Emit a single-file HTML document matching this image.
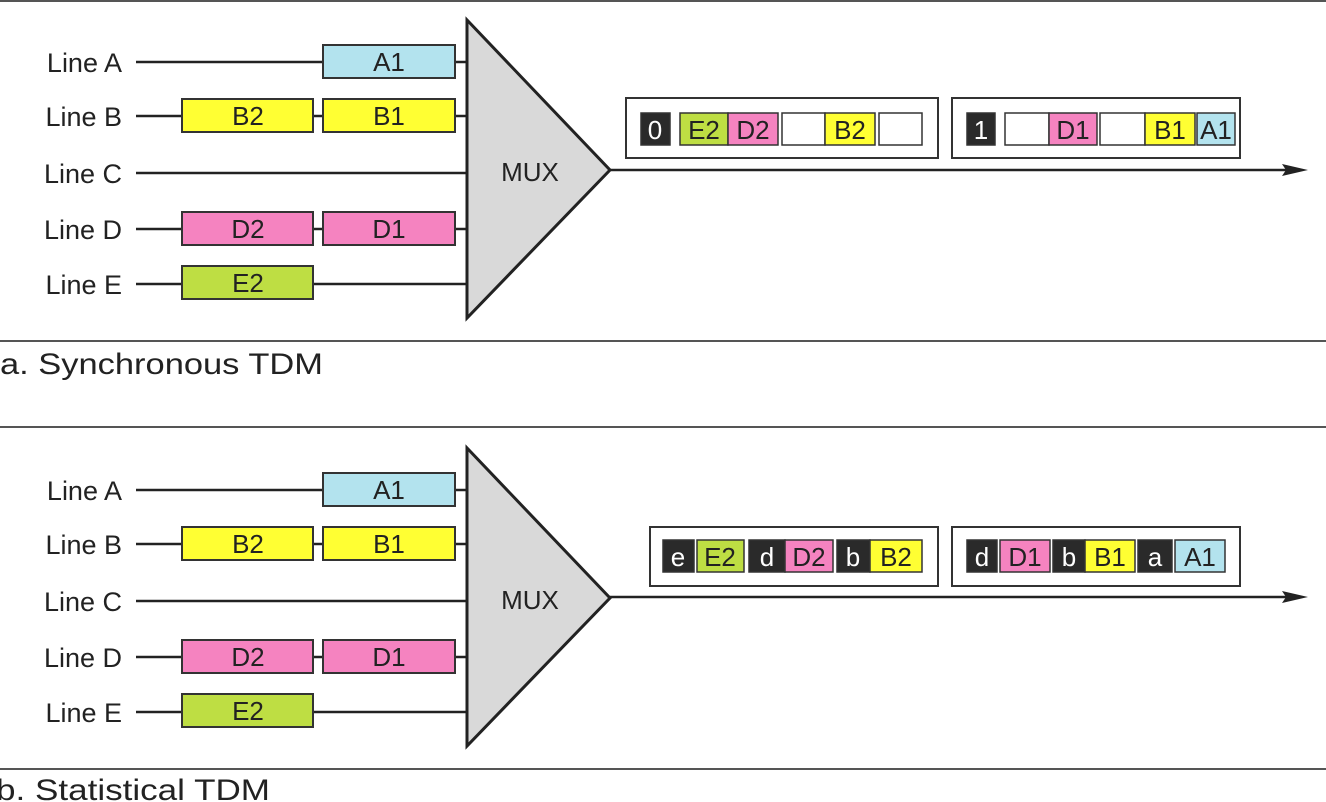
<!DOCTYPE html>
<html><head><meta charset="utf-8"><style>
html,body{margin:0;padding:0;background:#fff;width:1326px;height:802px;overflow:hidden}
text{font-family:"Liberation Sans",sans-serif;fill:#222}
</style></head><body>
<svg width="1326" height="802" viewBox="0 0 1326 802" xmlns="http://www.w3.org/2000/svg">
<defs>
<g id="left">
  <g font-size="27" text-anchor="end">
    <text x="122" y="72">Line A</text>
    <text x="122" y="126">Line B</text>
    <text x="122" y="183">Line C</text>
    <text x="122" y="239">Line D</text>
    <text x="122" y="294">Line E</text>
  </g>
  <g stroke="#222" stroke-width="2.5">
    <line x1="136" y1="62" x2="467" y2="62"/>
    <line x1="136" y1="116" x2="467" y2="116"/>
    <line x1="136" y1="173" x2="467" y2="173"/>
    <line x1="136" y1="229" x2="467" y2="229"/>
    <line x1="136" y1="284" x2="467" y2="284"/>
  </g>
  <g stroke="#333" stroke-width="2">
    <rect x="323" y="45" width="132" height="33" fill="#b3e3ee"/>
    <rect x="182" y="99" width="131" height="33" fill="#ffff33"/>
    <rect x="323" y="99" width="132" height="33" fill="#ffff33"/>
    <rect x="182" y="212" width="131" height="33" fill="#f583c0"/>
    <rect x="323" y="212" width="132" height="33" fill="#f583c0"/>
    <rect x="182" y="266" width="131" height="33" fill="#bede43"/>
  </g>
  <g font-size="26" text-anchor="middle">
    <text x="389" y="71">A1</text>
    <text x="248" y="125">B2</text><text x="389" y="125">B1</text>
    <text x="248" y="238">D2</text><text x="389" y="238">D1</text>
    <text x="248" y="292">E2</text>
  </g>
  <polygon points="467,20 467,318 610,170" fill="#d9d9d9" stroke="#222" stroke-width="3"/>
  <text x="530" y="181" font-size="26" text-anchor="middle">MUX</text>
</g>
</defs>
<g stroke="#555" stroke-width="2">
  <line x1="0" y1="1" x2="1326" y2="1"/>
  <line x1="0" y1="341" x2="1326" y2="341"/>
  <line x1="0" y1="427" x2="1326" y2="427"/>
  <line x1="0" y1="769" x2="1326" y2="769"/>
</g>
<use href="#left"/>
<use href="#left" transform="translate(0,428)"/>
<text x="0" y="374" font-size="30" textLength="323" lengthAdjust="spacingAndGlyphs">a. Synchronous TDM</text>
<text x="-4" y="800" font-size="30" textLength="274" lengthAdjust="spacingAndGlyphs">b. Statistical TDM</text>

<!-- top output -->
<line x1="610" y1="170" x2="1290" y2="170" stroke="#222" stroke-width="2.5"/>
<polygon points="1308,170 1282,164 1286,170 1282,176" fill="#222"/>
<g stroke="#333" stroke-width="2" fill="#fff">
  <rect x="626" y="98" width="312" height="60"/>
  <rect x="952" y="98" width="288" height="60"/>
</g>
<g stroke="#333" stroke-width="1.5">
  <rect x="641" y="113" width="29" height="32" fill="#2a2a2a"/>
  <rect x="680" y="113" width="48" height="32" fill="#bede43"/>
  <rect x="728" y="113" width="50" height="32" fill="#f583c0"/>
  <rect x="782" y="113" width="43" height="32" fill="#fff"/>
  <rect x="825" y="113" width="50" height="32" fill="#ffff33"/>
  <rect x="879" y="113" width="43" height="32" fill="#fff"/>
  <rect x="967" y="113" width="28" height="32" fill="#2a2a2a"/>
  <rect x="1005" y="113" width="44" height="32" fill="#fff"/>
  <rect x="1049" y="113" width="48" height="32" fill="#f583c0"/>
  <rect x="1100" y="113" width="45" height="32" fill="#fff"/>
  <rect x="1145" y="113" width="50" height="32" fill="#ffff33"/>
  <rect x="1197" y="113" width="38" height="32" fill="#b3e3ee"/>
</g>
<g font-size="26" text-anchor="middle">
  <text x="655" y="139" style="fill:#fff">0</text>
  <text x="704" y="139">E2</text>
  <text x="753" y="139">D2</text>
  <text x="850" y="139">B2</text>
  <text x="981" y="139" style="fill:#fff">1</text>
  <text x="1073" y="139">D1</text>
  <text x="1170" y="139">B1</text>
  <text x="1216" y="139">A1</text>
</g>

<!-- bottom output -->
<line x1="610" y1="597" x2="1290" y2="597" stroke="#222" stroke-width="2.5"/>
<polygon points="1308,597 1282,591 1286,597 1282,603" fill="#222"/>
<g stroke="#333" stroke-width="2" fill="#fff">
  <rect x="650" y="527" width="288" height="59"/>
  <rect x="952" y="527" width="288" height="59"/>
</g>
<g stroke="#333" stroke-width="1.5">
  <rect x="663" y="540" width="31" height="32" fill="#2a2a2a"/>
  <rect x="697" y="540" width="47" height="32" fill="#bede43"/>
  <rect x="749" y="540" width="36" height="32" fill="#2a2a2a"/>
  <rect x="785" y="540" width="48" height="32" fill="#f583c0"/>
  <rect x="837" y="540" width="33" height="32" fill="#2a2a2a"/>
  <rect x="870" y="540" width="52" height="32" fill="#ffff33"/>
  <rect x="967" y="540" width="30" height="32" fill="#2a2a2a"/>
  <rect x="1000" y="540" width="50" height="32" fill="#f583c0"/>
  <rect x="1053" y="540" width="32" height="32" fill="#2a2a2a"/>
  <rect x="1085" y="540" width="50" height="32" fill="#ffff33"/>
  <rect x="1138" y="540" width="34" height="32" fill="#2a2a2a"/>
  <rect x="1175" y="540" width="50" height="32" fill="#b3e3ee"/>
</g>
<g font-size="26" text-anchor="middle">
  <text x="678" y="566" style="fill:#fff">e</text>
  <text x="720" y="566">E2</text>
  <text x="767" y="566" style="fill:#fff">d</text>
  <text x="809" y="566">D2</text>
  <text x="853" y="566" style="fill:#fff">b</text>
  <text x="896" y="566">B2</text>
  <text x="982" y="566" style="fill:#fff">d</text>
  <text x="1025" y="566">D1</text>
  <text x="1069" y="566" style="fill:#fff">b</text>
  <text x="1110" y="566">B1</text>
  <text x="1155" y="566" style="fill:#fff">a</text>
  <text x="1200" y="566">A1</text>
</g>
</svg>
</body></html>
